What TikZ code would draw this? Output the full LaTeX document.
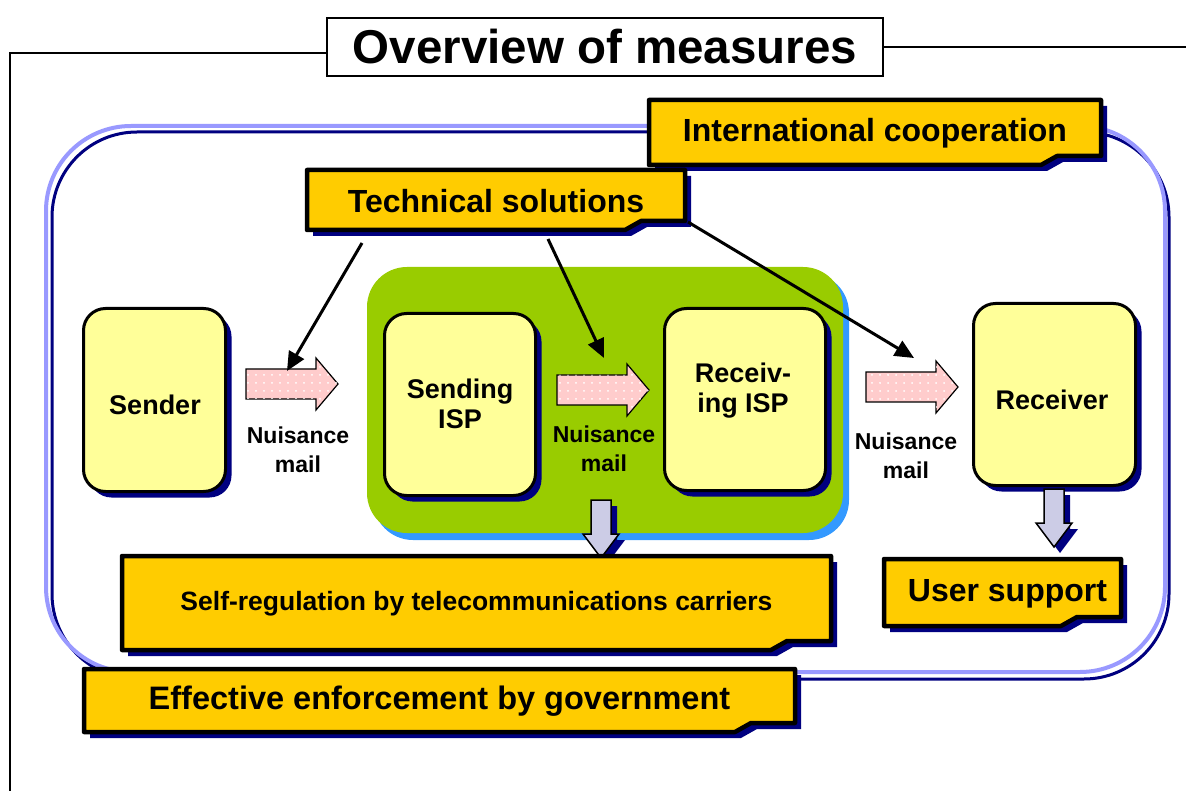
\documentclass[tikz,border=0pt]{standalone}
\usepackage{fontspec}
\setmainfont{Liberation Sans}
\usetikzlibrary{arrows.meta,patterns.meta,shadows,calc}

\definecolor{navy}{HTML}{000080}
\definecolor{boxyellow}{HTML}{FFFF99}
\definecolor{tagorange}{HTML}{FFCC00}
\definecolor{ispgreen}{HTML}{99CC00}
\definecolor{ispblue}{HTML}{3399FF}
\definecolor{mailpink}{HTML}{FFCCCC}
\definecolor{lavender}{HTML}{CCCCE6}
\definecolor{framelilac}{HTML}{9999FF}

\tikzset{
  navyshadow/.style={drop shadow={shadow xshift=6pt,shadow yshift=-6pt,fill=navy,opacity=1}},
  party/.style={draw=black,line width=3pt,fill=boxyellow,rounded corners=22pt,navyshadow,inner sep=0pt},
  partytext/.style={align=center,inner sep=0pt,font=\fontsize{27}{30}\selectfont\bfseries},
  tagshape/.style={draw=black,line width=4.5pt,fill=tagorange,line join=round,navyshadow},
  tagtext/.style={inner sep=0pt,font=\fontsize{32}{36}\selectfont\bfseries},
  mailtext/.style={align=center,inner sep=0pt,font=\fontsize{23}{29}\selectfont\bfseries},
  mailarrow/.style={draw=black,line width=1.2pt,fill=mailpink,
    postaction={pattern={Dots[distance=8pt,radius=1pt]},pattern color=white}},
  droparrow/.style={draw=black,line width=1.5pt,fill=lavender,line join=miter,navyshadow},
  pointer/.style={draw=black,line width=3pt,-{Triangle[length=19pt,width=17pt]}},
  frameline/.style={draw=black,line width=1.3pt},
}

% folded-corner label: name, x1, y1, x2, y2, font size, text, text x offset
\newcommand\foldtag[8]{%
  \draw[tagshape] (#2,#3) -- (#4,#3) -- (#4,#5-9) -- (#4-44,#5-9) -- (#4-60,#5) -- (#2,#5) -- cycle;
  \node[tagtext,font=\fontsize{#6}{#6}\selectfont\bfseries] (#1) at ({(#2+#4)/2+#8},{(#3+#5)/2+1}) {#7};}

% pink block arrow carrying mail: name, left x, centre y
\newcommand\mailarrowat[3]{%
  \draw[mailarrow] (#2,#3-15) -- (#2+70,#3-15) -- (#2+70,#3-26) -- (#2+92,#3)
    -- (#2+70,#3+26) -- (#2+70,#3+15) -- (#2,#3+15) -- cycle;
  \coordinate (#1) at (#2+46,#3);}

% downward block arrow: name, centre x, top y, tip y
\newcommand\dropArrow[4]{%
  \draw[droparrow] (#2-10,#3) -- (#2+10,#3) -- (#2+10,#4-24) -- (#2+18,#4-24) -- (#2,#4)
    -- (#2-18,#4-24) -- (#2-10,#4-24) -- cycle;
  \coordinate (#1) at (#2,#4);}

\begin{document}
\begin{tikzpicture}[x=1pt,y=-1pt]
\useasboundingbox (0,0) rectangle (1186,791);
\fill[white] (0,0) rectangle (1186,791);

% page frame and title
\node[draw=black,line width=1.3pt,fill=white,minimum width=556pt,minimum height=58pt,inner sep=0pt,
  font=\fontsize{47.5}{50}\selectfont\bfseries] (title) at (605,47) {Overview of measures};
\draw[frameline] (10,791) -- (10,53) -- (title.west |- 0,53);
\draw[frameline] (title.east) -- (1186,47);

% outer rounded frame
\draw[navy,line width=3pt,rounded corners=85pt] (52,132) rectangle (1169,679);
\draw[framelilac,line width=4pt,rounded corners=85pt] (46,126) rectangle (1165,672);

% ISP area
\fill[ispblue,rounded corners=40pt] (373,273) rectangle (849,540);
\fill[ispgreen,rounded corners=40pt] (367,267) rectangle (843,533);

% parties
\node[party,minimum width=142pt,minimum height=183pt] (sender) at (154.5,400) {};
\node[party,minimum width=151pt,minimum height=182pt] (sisp) at (460,404.5) {};
\node[party,minimum width=161pt,minimum height=182pt] (risp) at (745,399.5) {};
\node[party,minimum width=162pt,minimum height=182pt] (receiver) at (1054.5,394.5) {};
\node[partytext] (sendertext) at (155,405) {Sender};
\node[partytext] (sisptext) at (460,404) {Sending\\ISP};
\node[partytext] (risptext) at (743,391) {Receiv-\\ing ISP};
\node[partytext] (receivertext) at (1052,400) {Receiver};

% mail flow
\mailarrowat{m1}{246}{384}
\mailarrowat{m2}{557}{390}
\mailarrowat{m3}{866}{387}
\node[mailtext] (m1text) at (298,450) {Nuisance\\mail};
\node[mailtext] (m2text) at (604,449) {Nuisance\\mail};
\node[mailtext] (m3text) at (906,456) {Nuisance\\mail};

% downward arrows
\dropArrow{d1}{601}{500}{558}
\dropArrow{d2}{1054}{489}{547}

% measure labels
\foldtag{intl}{649}{100}{1101}{165}{32}{International cooperation}{0}
\foldtag{tech}{307}{170}{685}{230}{32}{Technical solutions}{0}
\foldtag{selfreg}{122}{556}{831}{650}{26.5}{Self-regulation by telecommunications carriers}{0}
\foldtag{usersup}{884}{559}{1121}{626}{32}{User support}{5}
\foldtag{enforce}{84}{669}{795}{732}{32.5}{Effective enforcement by government}{0}

% technical measures point at the mail flow
\coordinate (t1) at (362,243);
\coordinate (t2) at (548,239);
\coordinate (t3) at (688,222);
\coordinate (h1) at (287,371);
\coordinate (h2) at (604,358);
\coordinate (h3) at (914,358);
\draw[pointer] (t1) -- (h1);
\draw[pointer] (t2) -- (h2);
\draw[pointer] (t3) -- (h3);
\end{tikzpicture}
\end{document}
